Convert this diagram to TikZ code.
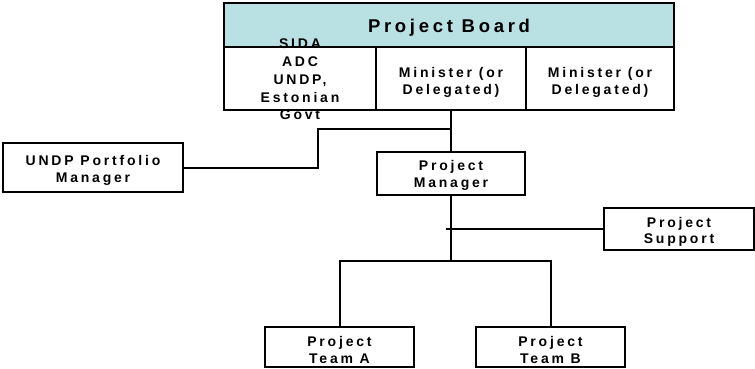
\documentclass[tikz,border=0pt]{standalone}
\usepackage{fontspec}
\newfontfamily\labfont{Liberation Sans}[LetterSpace=20]
\definecolor{boardteal}{HTML}{B9E0E3}
\tikzset{
  box/.style={draw=black, line width=2pt, fill=white, inner sep=0pt},
  txt/.style={inner sep=0pt, align=center, font=\labfont\bfseries\fontsize{14}{17.8}\selectfont},
  conn/.style={line width=2pt}
}
\begin{document}
\begin{tikzpicture}[x=1pt,y=-1pt]
\useasboundingbox (0,0) rectangle (755,368);
% project board
\node[box, fill=boardteal, minimum width=450pt, minimum height=44pt] (hdr) at (449,25) {};
\node[box, minimum width=152pt, minimum height=63pt] (c1) at (300,78.5) {};
\node[box, minimum width=150pt, minimum height=63pt] (c2) at (451,78.5) {};
\node[box, minimum width=148pt, minimum height=63pt] (c3) at (600,78.5) {};
% other boxes
\node[box, minimum width=148pt, minimum height=43pt] (pm) at (451,173.5) {};
\node[box, minimum width=180pt, minimum height=49pt] (port) at (93,167.5) {};
\node[box, minimum width=150pt, minimum height=42pt] (sup) at (679,229) {};
\node[box, minimum width=149pt, minimum height=40pt] (ta) at (339.5,347) {};
\node[box, minimum width=149pt, minimum height=40pt] (tb) at (550.5,347) {};
% texts
\node[txt, font=\labfont\bfseries\fontsize{18.5}{20}\selectfont] (hdrt) at ([yshift=-3pt]hdr.center) {Project Board};
\node[txt] (c1t) at ([yshift=-1pt]c1.center) {SIDA\\ADC\\UNDP,\\Estonian\\Govt};
\node[txt] (c2t) at ([yshift=-4pt]c2.center) {Minister (or\\Delegated)};
\node[txt] (c3t) at ([yshift=-4pt]c3.center) {Minister (or\\Delegated)};
\node[txt] (pmt) at ([yshift=-2pt]pm.center) {Project\\Manager};
\node[txt, font=\labfont\bfseries\fontsize{14}{16.5}\selectfont] (portt) at ([yshift=-3pt]port.center) {UNDP Portfolio\\Manager};
\node[txt, font=\labfont\bfseries\fontsize{14}{16.5}\selectfont] (supt) at ([yshift=-3pt]sup.center) {Project\\Support};
\node[txt] (tat) at ([yshift=-3pt]ta.center) {Project\\Team A};
\node[txt] (tbt) at ([yshift=-3pt]tb.center) {Project\\Team B};
% connectors
\coordinate (j1) at (451,129);
\coordinate (j2) at (451,261);
\coordinate (js) at (446,229);
\draw[conn] (c2.south) -- (pm.north);
\draw[conn] (port.east) -- (318,167.5) |- (j1);
\draw[conn] (pm.south) -- (j2);
\draw[conn] (sup.west) -- (js);
\draw[conn] (ta.north) |- (j2) -| (tb.north);
\end{tikzpicture}
\end{document}
